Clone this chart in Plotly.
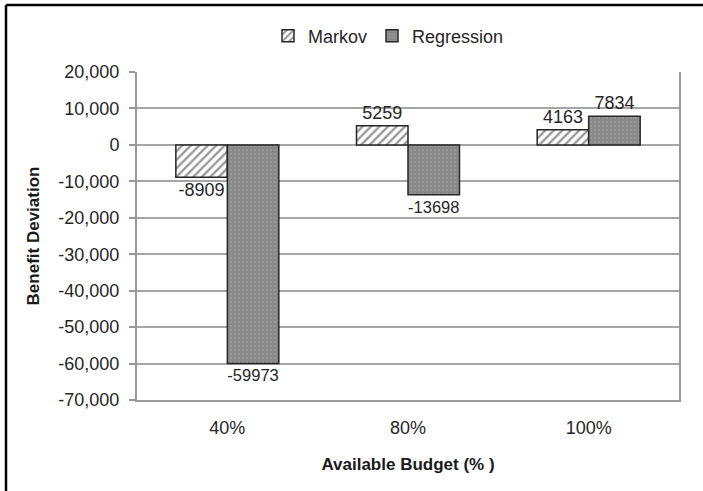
import plotly.graph_objects as go

categories = ["40%", "80%", "100%"]
markov = [-8909, 5259, 4163]
regression = [-59973, -13698, 7834]
y_ticks = [20000, 10000, 0, -10000, -20000, -30000, -40000, -50000, -60000, -70000]
y_tick_labels = ["20,000", "10,000", "0", "-10,000", "-20,000", "-30,000", "-40,000", "-50,000", "-60,000", "-70,000"]

W, H = 703, 491
L, R, T, B = 137, 679, 72, 400
FONT = "Liberation Sans, Arial, sans-serif"

fig = go.Figure()
fig.add_trace(go.Bar(
    name="Markov", x=categories, y=markov,
    text=[str(v) for v in markov], textposition="outside",
    textfont=dict(size=18, color="#262626", family=FONT),
    marker=dict(color="white", line=dict(color="#262626", width=1.5),
                pattern=dict(shape="/", fgcolor="#333333", bgcolor="white", size=6, solidity=0.4)),
    cliponaxis=False,
))
fig.add_trace(go.Bar(
    name="Regression", x=categories, y=regression,
    text=[str(v) for v in regression], textposition="outside",
    textfont=dict(size=18, color="#262626", family=FONT),
    marker=dict(color="#8c8c8c", line=dict(color="#262626", width=1.5),
                pattern=dict(shape=".", fgcolor="#a8a8a8", bgcolor="#888888", size=4, solidity=0.3)),
    cliponaxis=False,
))

pw, ph = R - L, B - T
# outer frame: only left and top edges are visible in the image
fx0 = (6 - L) / pw
fy1 = 1 + (T - 5) / ph
fig.add_shape(type="line", xref="paper", yref="paper",
              x0=fx0, x1=fx0, y0=(B - 491) / ph, y1=fy1,
              line=dict(color="black", width=2.5), layer="above")
fig.add_shape(type="line", xref="paper", yref="paper",
              x0=fx0, x1=(703 - L) / pw, y0=fy1, y1=fy1,
              line=dict(color="black", width=2.5), layer="above")

fig.update_layout(
    width=W, height=H,
    margin=dict(l=L, r=W - R, t=T, b=H - B),
    paper_bgcolor="white", plot_bgcolor="white",
    barmode="group", bargap=0.43, bargroupgap=0,
    font=dict(family=FONT, size=18, color="#262626"),
    showlegend=True,
    legend=dict(orientation="h", x=(268 - L) / pw, xanchor="left",
                y=1 + (T - 36) / ph, yanchor="middle",
                font=dict(size=18, color="#262626"), itemwidth=30,
                traceorder="normal", tracegroupgap=0, borderwidth=0),
    xaxis=dict(
        showgrid=False, showline=True, linecolor="#999999", linewidth=2,
        ticks="", tickfont=dict(size=18, color="#262626"), ticklabelstandoff=10,
        title=dict(text="<b>Available Budget (% )</b>", font=dict(size=17, color="#1a1a1a"), standoff=22),
    ),
    yaxis=dict(
        range=[-70000, 20000], tickvals=y_ticks, ticktext=y_tick_labels,
        showgrid=True, gridcolor="#a6a6a6", gridwidth=2,
        zeroline=True, zerolinecolor="#a6a6a6", zerolinewidth=2,
        showline=True, linecolor="#999999", linewidth=2, mirror=True,
        ticks="outside", ticklen=6, tickcolor="#999999", tickwidth=1.5,
        tickfont=dict(size=18, color="#262626"), ticklabelstandoff=6,
        title=dict(text="<b>Benefit Deviation</b>", font=dict(size=17, color="#1a1a1a"), standoff=14),
    ),
)

fig.write_html("out.html", config={"displayModeBar": False},
               post_script="document.documentElement.style.overflow='hidden';document.body.style.margin='0';document.body.style.overflow='hidden';")
